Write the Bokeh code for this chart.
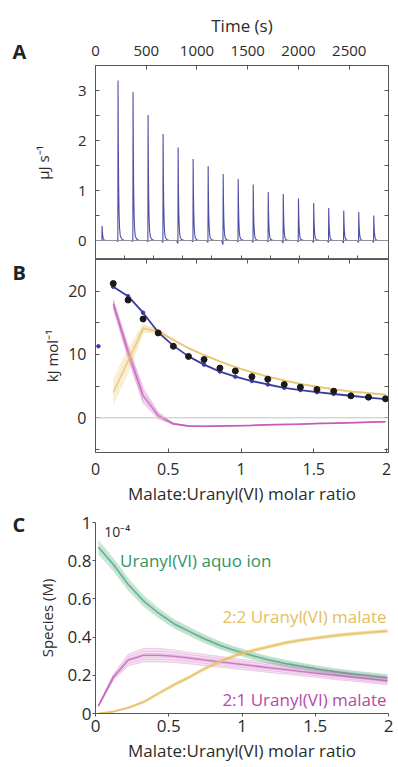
from bokeh.plotting import figure
from bokeh.layouts import column, row
from bokeh.models import (Range1d, LinearAxis, FixedTicker, Span, Label,
                          CustomJSTickFormatter)
from bokeh.core.properties import value
from bokeh.embed import file_html
from bokeh.resources import INLINE

FONT = "Open Sans"
AXC = "#555555"
TXT = "#2b2b2b"
BLUE = "#3c3c9c"
YEL = "#e8c266"
MAG = "#c254b6"
GRN = "#3f9e6e"

# ---------------- Panel A: thermogram ----------------
peak_times = [65, 222, 370, 518, 666, 814, 962, 1110, 1258, 1406, 1554,
              1702, 1850, 2000, 2150, 2298, 2446, 2594, 2742]
peak_heights = [0.29, 3.20, 2.97, 2.51, 2.13, 1.86, 1.63, 1.49, 1.33, 1.23,
                1.12, 0.97, 0.93, 0.84, 0.75, 0.65, 0.60, 0.57, 0.50]
peak_dips = [0.0, 0.02, 0.02, 0.03, 0.04, 0.06, 0.03, 0.04, 0.08, 0.03,
             0.04, 0.03, 0.05, 0.03, 0.04, 0.04, 0.05, 0.04, 0.04]
# injection peak profile (seconds after injection, fraction of peak height)
shape_dt = [-15, -2, 0, 3, 6, 10, 15, 22, 35, 60]
shape_frac = [0.0, None, 1.0, 0.6, 0.35, 0.18, 0.08, 0.03, 0.01, 0.0]
time_ticks = [0, 500, 1000, 1500, 2000, 2500]

# ---------------- Panel B: integrated heats ----------------
ratio0 = [0.02]
heat0 = [11.3]
ratio = [0.122, 0.224, 0.327, 0.431, 0.535, 0.639, 0.746, 0.855, 0.961,
         1.075, 1.184, 1.297, 1.408, 1.522, 1.637, 1.755, 1.876, 1.993]
heat_exp = [21.2, 18.6, 15.6, 13.4, 11.3, 9.7, 9.2, 7.85, 7.4, 6.5, 6.1,
            5.26, 4.84, 4.47, 4.2, 3.47, 3.26, 3.0]
heat_err = [0.4, 0.4, 0.4, 0.4, 0.35, 0.35, 0.3, 0.3, 0.3, 0.3, 0.3, 0.3,
            0.3, 0.3, 0.3, 0.25, 0.25, 0.25]
heat_fit = [20.7, 19.2, 16.6, 13.5, 11.4, 9.7, 8.4, 7.3, 6.5, 5.8, 5.26,
            4.74, 4.38, 4.05, 3.76, 3.48, 3.2, 2.95]
heat_22 = [4.0, 9.0, 14.1, 13.7, 12.3, 11.0, 9.9, 8.9, 8.0, 7.2, 6.5, 5.9,
           5.35, 4.9, 4.5, 4.15, 3.9, 3.65]
heat_22_spread = [1.9, 1.8, 0.6, 0.3, 0.15, 0.12, 0.1, 0.1, 0.1, 0.1, 0.1,
                  0.1, 0.1, 0.1, 0.1, 0.1, 0.1, 0.1]
heat_21 = [18.0, 10.4, 3.5, 0.35, -0.95, -1.3, -1.35, -1.3, -1.25, -1.2,
           -1.1, -1.05, -1.0, -0.9, -0.85, -0.78, -0.7, -0.62]
heat_21_spread = [0.7, 1.0, 1.2, 0.5, 0.12, 0.08, 0.06, 0.06, 0.06, 0.06,
                  0.06, 0.06, 0.06, 0.06, 0.06, 0.06, 0.06, 0.06]

# ---------------- Panel C: speciation (x 1e-4 M) ----------------
c_ratio = [0.02, 0.122, 0.224, 0.327, 0.431, 0.535, 0.639, 0.746, 0.855,
           0.961, 1.075, 1.184, 1.297, 1.408, 1.522, 1.637, 1.755, 1.876, 1.993]
aquo = [0.87, 0.78, 0.675, 0.59, 0.525, 0.47, 0.43, 0.39, 0.355, 0.328, 0.302,
        0.28, 0.262, 0.247, 0.232, 0.218, 0.207, 0.197, 0.187]
aquo_spread = [0.035, 0.032, 0.03, 0.027, 0.024, 0.022, 0.021, 0.02, 0.019,
               0.018, 0.018, 0.017, 0.017, 0.016, 0.016, 0.016, 0.016, 0.016, 0.016]
mal21 = [0.04, 0.19, 0.28, 0.305, 0.305, 0.30, 0.29, 0.28, 0.27, 0.26, 0.25,
         0.24, 0.23, 0.22, 0.21, 0.20, 0.19, 0.18, 0.17]
mal21_spread = [0.005, 0.015, 0.03, 0.035, 0.035, 0.033, 0.03, 0.03, 0.028,
                0.027, 0.026, 0.025, 0.024, 0.023, 0.022, 0.022, 0.021, 0.02, 0.02]
mal22 = [0.0, 0.01, 0.03, 0.06, 0.105, 0.15, 0.19, 0.235, 0.275, 0.305, 0.33,
         0.35, 0.37, 0.385, 0.397, 0.408, 0.417, 0.425, 0.432]
mal22_spread = [0.002, 0.003, 0.005, 0.006, 0.007, 0.008, 0.008, 0.008, 0.008,
                0.008, 0.008, 0.008, 0.008, 0.008, 0.008, 0.008, 0.008, 0.008, 0.008]

panel_letters = ["A", "B", "C"]

BAND_FRACS = [-1.0, -0.6, -0.25, 0.25, 0.6, 1.0]


def fmt():
    return CustomJSTickFormatter(code="return tick.toString()")


def style_axis(ax, ticks, minor=None, show_labels=True, size="15px",
               tin=4, tout=0, standoff=5):
    ax.ticker = FixedTicker(ticks=ticks, minor_ticks=minor or [])
    ax.major_tick_in = tin
    ax.major_tick_out = tout
    ax.minor_tick_in = tin
    ax.minor_tick_out = tout
    ax.axis_line_color = AXC
    ax.major_tick_line_color = AXC
    ax.minor_tick_line_color = AXC
    ax.major_label_text_font = FONT
    ax.axis_label_text_font = FONT
    ax.axis_label_text_color = TXT
    ax.axis_label_text_font_style = "normal"
    if show_labels:
        ax.formatter = fmt()
        ax.major_label_text_color = TXT
        ax.major_label_text_font_size = size
        ax.major_label_standoff = standoff
    else:
        ax.major_label_text_color = None
        ax.major_label_text_font_size = "0px"
        ax.major_label_standoff = 0


def base_fig(**kw):
    p = figure(output_backend="svg", toolbar_location=None, **kw)
    p.xgrid.visible = False
    p.ygrid.visible = False
    p.background_fill_color = "white"
    p.border_fill_color = "white"
    return p


def ensemble(p, x, mid, spread, color, band_alpha, line_alpha, mid_alpha, mid_w):
    lo = [m - s for m, s in zip(mid, spread)]
    hi = [m + s for m, s in zip(mid, spread)]
    p.varea(x=x, y1=lo, y2=hi, fill_color=color, fill_alpha=band_alpha)
    for f in BAND_FRACS:
        p.line(x, [m + f * s for m, s in zip(mid, spread)], line_color=color,
               line_alpha=line_alpha, line_width=1)
    p.line(x, mid, line_color=color, line_alpha=mid_alpha, line_width=mid_w)


W_MAIN = 370

# ================= A =================
XA = Range1d(0, 2887)
pA = base_fig(width=W_MAIN, height=259, x_range=XA, y_range=Range1d(-0.38, 3.5),
              x_axis_location="above",
              min_border_left=64, min_border_right=10,
              min_border_top=65, min_border_bottom=0)
pA.outline_line_color = "#666666"
pA.extra_x_ranges = {"ratio": Range1d(0, 2.0136)}
style_axis(pA.xaxis[0], time_ticks, size="15px", standoff=10)
pA.xaxis[0].axis_label = "Time (s)"
pA.xaxis[0].axis_label_text_font_size = "17px"
pA.xaxis[0].axis_label_standoff = 6
style_axis(pA.yaxis[0], [0, 1, 2, 3], [0.5, 1.5, 2.5], size="15px", standoff=9)
pA.yaxis[0].axis_label = "μJ s⁻¹"
pA.yaxis[0].axis_label_text_font_size = "15px"
pA.yaxis[0].axis_label_standoff = 22
axA_b = LinearAxis(x_range_name="ratio")
style_axis(axA_b, [0.2, 0.4, 0.6, 0.8, 1.0, 1.2, 1.4, 1.6, 1.8], show_labels=False)
pA.add_layout(axA_b, "below")
axA_r = LinearAxis()
style_axis(axA_r, [0, 0.5, 1, 1.5, 2, 2.5, 3], show_labels=False)
pA.add_layout(axA_r, "right")

pA.add_layout(Span(location=0, dimension="width", line_color="#8e8e9a", line_width=1))
tt, yy = [0], [0.0]
for t0, h, d in zip(peak_times, peak_heights, peak_dips):
    for dt, fr in zip(shape_dt, shape_frac):
        tt.append(t0 + dt)
        yy.append(-d if fr is None else h * fr)
tt.append(XA.end)
yy.append(0.0)
pA.line(tt, yy, line_color=BLUE, line_width=1.1, line_alpha=0.9)

# ================= B =================
pB = base_fig(width=W_MAIN, height=252, x_range=Range1d(0, 2.0136),
              y_range=Range1d(-5.48, 25.0),
              min_border_left=64, min_border_right=10,
              min_border_top=0, min_border_bottom=59)
pB.outline_line_color = "#666666"
pB.extra_x_ranges = {"time": Range1d(0, 2887)}
style_axis(pB.xaxis[0], [0, 0.5, 1, 1.5, 2], size="16px", standoff=10)
pB.xaxis[0].axis_label = "Malate:Uranyl(VI) molar ratio"
pB.xaxis[0].axis_label_text_font_size = "17px"
pB.xaxis[0].axis_label_standoff = 4
style_axis(pB.yaxis[0], [0, 10, 20], [-5, 5, 15], size="16px", standoff=9)
pB.yaxis[0].axis_label = "kJ mol⁻¹"
pB.yaxis[0].axis_label_text_font_size = "15px"
pB.yaxis[0].axis_label_standoff = 3
axB_t = LinearAxis(x_range_name="time")
style_axis(axB_t, time_ticks[1:], show_labels=False)
pB.add_layout(axB_t, "above")
axB_r = LinearAxis()
style_axis(axB_r, [-5, 0, 5, 10, 15, 20], show_labels=False)
pB.add_layout(axB_r, "right")

pB.add_layout(Span(location=0, dimension="width", line_color="#c4c4c4", line_width=1))
ensemble(pB, ratio, heat_21, heat_21_spread, MAG, 0.15, 0.3, 0.75, 1.5)
ensemble(pB, ratio, heat_22, heat_22_spread, YEL, 0.15, 0.3, 0.8, 1.5)
pB.line(ratio, heat_fit, line_color=BLUE, line_width=1.8)
pB.scatter(ratio, heat_fit, size=3.5, color=BLUE)
pB.scatter(ratio0, heat0, size=3.5, color=BLUE)
pB.segment(ratio, [y - e for y, e in zip(heat_exp, heat_err)],
           ratio, [y + e for y, e in zip(heat_exp, heat_err)],
           line_color="#1a1a1a", line_width=1)
pB.scatter(ratio, heat_exp, size=6, color="#1a1a1a")

# ================= C =================
pC = base_fig(width=W_MAIN, height=256, x_range=Range1d(0, 2.0), y_range=Range1d(0, 1.0),
              min_border_left=67, min_border_right=6,
              min_border_top=11, min_border_bottom=54)
pC.outline_line_color = None
style_axis(pC.xaxis[0], [0, 0.5, 1, 1.5, 2], size="17px", tin=0, tout=3, standoff=3)
pC.xaxis[0].axis_label = "Malate:Uranyl(VI) molar ratio"
pC.xaxis[0].axis_label_text_font_size = "17px"
pC.xaxis[0].axis_label_standoff = 4
style_axis(pC.yaxis[0], [0, 0.2, 0.4, 0.6, 0.8, 1.0], size="17px", tin=0, tout=3, standoff=1)
pC.yaxis[0].axis_label = "Species (M)"
pC.yaxis[0].axis_label_text_font_size = "15px"
pC.yaxis[0].axis_label_standoff = 8

ensemble(pC, c_ratio, aquo, aquo_spread, GRN, 0.18, 0.25, 0.75, 1.5)
ensemble(pC, c_ratio, mal21, mal21_spread, MAG, 0.15, 0.25, 0.75, 1.5)
ensemble(pC, c_ratio, mal22, mal22_spread, YEL, 0.2, 0.3, 0.9, 1.5)

for x, y, txt, col, align in [
        (0.168, 0.80, "Uranyl(VI) aquo ion", "#2f9663", "left"),
        (1.987, 0.509, "2:2 Uranyl(VI) malate", "#e3bf60", "right"),
        (1.987, 0.072, "2:1 Uranyl(VI) malate", "#b54aa8", "right")]:
    pC.add_layout(Label(x=x, y=y, text=txt, text_font=FONT, text_font_size="17px",
                        text_color=col, text_align=align, text_baseline="middle"))
pC.add_layout(Label(x=0.06, y=0.955, text="10⁻⁴", text_font=FONT, text_font_size="14px",
                    text_color=TXT, text_align="left", text_baseline="middle"))

# ================= panel letters strip =================
H_TOTAL = 259 + 252 + 256
pL = figure(output_backend="svg", toolbar_location=None, width=28, height=H_TOTAL,
            x_range=Range1d(0, 28), y_range=Range1d(H_TOTAL, 0),
            x_axis_location=None, y_axis_location=None,
            min_border=0, outline_line_color=None)
pL.xgrid.visible = False
pL.ygrid.visible = False
pL.text(x=[12, 12, 12], y=[51, 271.5, 524], text=panel_letters,
        text_font=value(FONT), text_font_size="20px", text_font_style="bold",
        text_color="#222222", text_align="left", text_baseline="middle")

layout = row(pL, column(pA, pB, pC, spacing=0), spacing=0)
open("out.html", "w").write(file_html(layout, INLINE))
